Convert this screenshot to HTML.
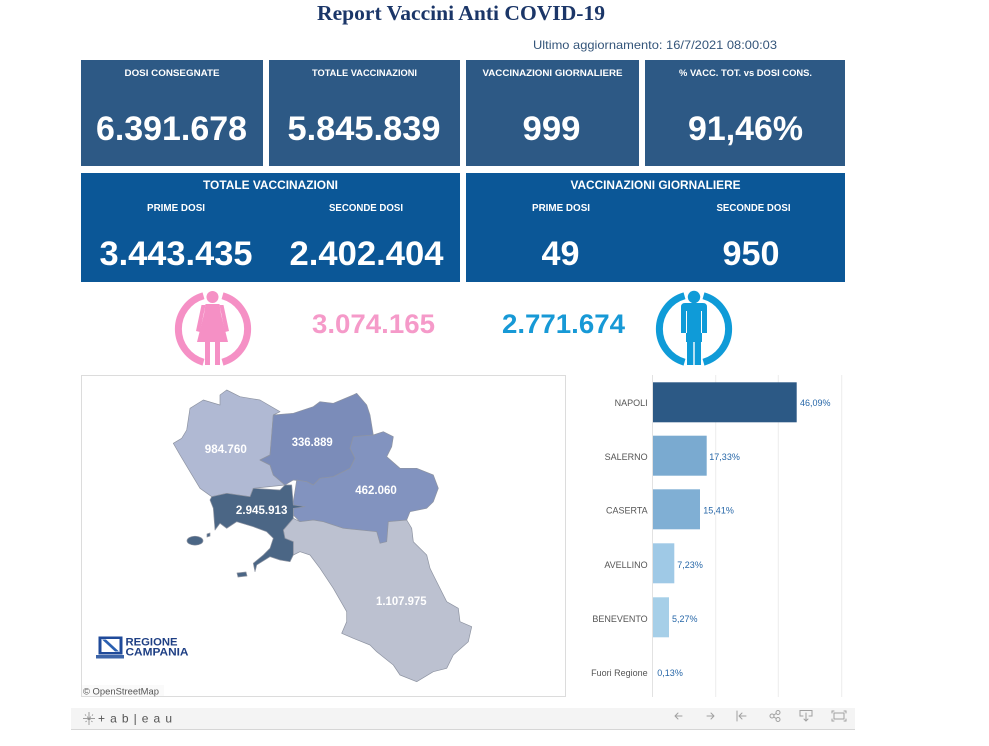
<!DOCTYPE html>
<html><head><meta charset="utf-8"><style>
html,body{margin:0;padding:0;background:#fff;}
svg{display:block;}
text{font-family:"Liberation Sans",Arial,sans-serif;}
</style></head><body>
<svg width="989" height="746" viewBox="0 0 989 746" xmlns="http://www.w3.org/2000/svg">
<rect x="0" y="0" width="989" height="746" fill="#fff"/>
<!-- Title -->
<text x="461" y="20" text-anchor="middle" font-family="Liberation Serif, serif" font-weight="bold" font-size="21" fill="#1b3668" textLength="288" lengthAdjust="spacingAndGlyphs" style="font-family:'Liberation Serif',serif">Report Vaccini Anti COVID-19</text>
<text x="533" y="49" font-size="12" fill="#34557a" textLength="244" lengthAdjust="spacingAndGlyphs">Ultimo aggiornamento: 16/7/2021  08:00:03</text>

<!-- Row 1 cards -->
<g fill="#2d5985">
<rect x="81" y="60" width="182" height="106"/>
<rect x="269" y="60" width="191" height="106"/>
<rect x="466" y="60" width="173" height="106"/>
<rect x="645" y="60" width="200" height="106"/>
</g>
<g fill="#fff" font-weight="bold" text-anchor="middle">
<text x="172" y="76" font-size="9.5" textLength="95" lengthAdjust="spacingAndGlyphs">DOSI  CONSEGNATE</text>
<text x="364.5" y="76" font-size="9.5" textLength="105" lengthAdjust="spacingAndGlyphs">TOTALE VACCINAZIONI</text>
<text x="552.5" y="76" font-size="9.5" textLength="140" lengthAdjust="spacingAndGlyphs">VACCINAZIONI GIORNALIERE</text>
<text x="745.5" y="76" font-size="9.5" textLength="133" lengthAdjust="spacingAndGlyphs">% VACC. TOT. vs DOSI CONS.</text>
<text x="171.5" y="140" font-size="34" textLength="151" lengthAdjust="spacingAndGlyphs">6.391.678</text>
<text x="364" y="140" font-size="34" textLength="153" lengthAdjust="spacingAndGlyphs">5.845.839</text>
<text x="551.5" y="140" font-size="34" textLength="58" lengthAdjust="spacingAndGlyphs">999</text>
<text x="745.5" y="140" font-size="34" textLength="115" lengthAdjust="spacingAndGlyphs">91,46%</text>
</g>

<!-- Row 2 cards -->
<g fill="#0b5797">
<rect x="81" y="173" width="379" height="109"/>
<rect x="466" y="173" width="379" height="109"/>
</g>
<g fill="#fff" font-weight="bold" text-anchor="middle">
<text x="270.5" y="189" font-size="11.5" textLength="135" lengthAdjust="spacingAndGlyphs">TOTALE VACCINAZIONI</text>
<text x="655.5" y="189" font-size="11.5" textLength="170" lengthAdjust="spacingAndGlyphs">VACCINAZIONI GIORNALIERE</text>
<text x="176" y="211" font-size="9.8" textLength="58" lengthAdjust="spacingAndGlyphs">PRIME DOSI</text>
<text x="366" y="211" font-size="9.8" textLength="74" lengthAdjust="spacingAndGlyphs">SECONDE DOSI</text>
<text x="561" y="211" font-size="9.8" textLength="58" lengthAdjust="spacingAndGlyphs">PRIME DOSI</text>
<text x="753.5" y="211" font-size="9.8" textLength="74" lengthAdjust="spacingAndGlyphs">SECONDE DOSI</text>
<text x="176" y="265" font-size="34" textLength="153" lengthAdjust="spacingAndGlyphs">3.443.435</text>
<text x="366.5" y="265" font-size="34" textLength="154" lengthAdjust="spacingAndGlyphs">2.402.404</text>
<text x="560.5" y="265" font-size="34" textLength="38" lengthAdjust="spacingAndGlyphs">49</text>
<text x="751" y="265" font-size="34" textLength="57" lengthAdjust="spacingAndGlyphs">950</text>
</g>

<!-- Female icon -->
<g fill="#f590c5" stroke="none">
<path d="M203.5 295.8 A34.5 34.5 0 0 0 203.5 362.2" fill="none" stroke="#f590c5" stroke-width="7"/>
<path d="M222.5 295.8 A34.5 34.5 0 0 1 222.5 362.2" fill="none" stroke="#f590c5" stroke-width="7"/>
<circle cx="212.5" cy="297" r="6"/>
<polygon points="201.5,305 205.5,305 200,332 196,331"/>
<polygon points="223.5,305 219.5,305 225,332 229,331"/>
<polygon points="205.5,304 219.5,304 221,314 228,342 197,342 204,314"/>
<rect x="205" y="341" width="5" height="24"/>
<rect x="215" y="341" width="5" height="24"/>
</g>
<text x="312" y="333" font-size="27" font-weight="bold" fill="#f59ac9" textLength="123" lengthAdjust="spacingAndGlyphs">3.074.165</text>
<text x="502" y="333" font-size="27" font-weight="bold" fill="#1799d6" textLength="123" lengthAdjust="spacingAndGlyphs">2.771.674</text>

<!-- Male icon -->
<g fill="#0f9bd8">
<path d="M684.5 295.8 A34.5 34.5 0 0 0 684.5 362.2" fill="none" stroke="#0f9bd8" stroke-width="7"/>
<path d="M703.5 295.8 A34.5 34.5 0 0 1 703.5 362.2" fill="none" stroke="#0f9bd8" stroke-width="7"/>
<circle cx="694" cy="297" r="6.2"/>
<path d="M681 307 Q681 303 685 303 L703 303 Q707 303 707 307 L707 333 L702 333 L702 342 L686 342 L686 333 L681 333 Z"/>
<rect x="687" y="341" width="6.3" height="24"/>
<rect x="694.7" y="341" width="6.3" height="24"/>
<line x1="686.5" y1="311" x2="686.5" y2="333" stroke="#fff" stroke-width="1"/>
<line x1="701.5" y1="311" x2="701.5" y2="333" stroke="#fff" stroke-width="1"/>
</g>

<!-- Map panel -->
<rect x="81.5" y="375.5" width="484" height="321" fill="#fff" stroke="#dcdcdc" stroke-width="1"/>
<g stroke="#8e94a2" stroke-width="0.7" stroke-linejoin="round">
<!-- Caserta -->
<polygon fill="#b0b9d3" points="173.3,443.3 181.7,438.3 186.7,430 190,408.3 203.3,400 220,405 220,395 226.7,390 240,396.7 260,400 280,411.7 273.3,415 271.7,435 270,455 260,460 270,465 273.3,475 285,485 253.3,488.3 250,496.7 226.7,493.3 211.7,496.7 200,488.3 190,471.7 180,455"/>
<!-- Benevento -->
<polygon fill="#7b8cb9" points="273.3,415 293.3,413.3 313.3,406.7 320,401.7 333.3,403.3 353.3,395 356.7,393.3 366.7,405 370,415 373.3,435 353.3,436.7 350,448.3 355,458.3 350,468.3 343.3,471.7 333.3,476.7 320,478.3 313.3,485 306.7,481.7 293.3,480 285,485 273.3,475 270,465 260,460 270,455 271.7,435"/>
<!-- Avellino -->
<polygon fill="#8293bf" points="353.3,436.7 373.3,435 383.3,431.7 393.3,436.7 391.7,446.7 386.7,456.7 400,468.3 416.7,468.3 433.3,475 438.3,488.3 433.3,501.7 426.7,508.3 410,511.7 406.7,520 388.3,521.7 386.7,541.7 380,543.3 376.7,531.7 343.3,528.3 323.3,521.7 313.3,520 300,521.7 293.3,515 293.3,501.7 296.7,480 306.7,481.7 313.3,485 320,478.3 333.3,476.7 343.3,471.7 350,468.3 355,458.3 350,448.3"/>
<!-- Salerno -->
<polygon fill="#bcc1d0" points="293.3,518.3 300,521.7 313.3,520 323.3,521.7 343.3,528.3 376.7,531.7 380,543.3 386.7,541.7 388.3,521.7 406.7,520 411.7,528.3 413.3,541.7 426.7,555 430,568.3 433.3,575 446.7,601.7 458.3,608.3 460,621.7 471.7,626.7 468.3,641.7 453.3,655 446.7,668.3 433.3,671.7 416.7,681.7 400,675 393.3,665 376.7,651.7 370,645 353.3,638.3 341.7,633.3 346.7,621.7 346.7,611.7 333.3,588.3 320,568.3 310,555 300,551.7 293.3,555 293.3,541.7 285,538.3 283.3,530"/>
<!-- Napoli -->
<polygon fill="#4b6685" points="211.7,496.7 226.7,493.3 250,496.7 253.3,488.3 280,490 285,485 291.7,485 293.3,505 305,506.7 293.3,508.3 293.3,518.3 283.3,530 285,538.3 293.3,541.7 293.3,555 290,561.7 280,560 270,556.7 256.7,565 255,571.7 253.3,563.3 263.3,555 270,548.3 273.3,538.3 266.7,531.7 253.3,526.7 236.7,521.7 226.7,528.3 220,523.3 215,530 213.3,508.3 210,500"/>
<ellipse cx="195" cy="540.7" rx="8" ry="4.5" fill="#4b6685"/>
<polygon fill="#4b6685" points="237,573 246,572 247,576 238,577"/>
<polygon fill="#4b6685" points="207,534 210,533 210,536 207,537"/>
</g>
<g fill="#fff" font-weight="bold" font-size="11.5" text-anchor="middle">
<text x="225.8" y="453" textLength="42" lengthAdjust="spacingAndGlyphs">984.760</text>
<text x="312.2" y="446" textLength="41" lengthAdjust="spacingAndGlyphs">336.889</text>
<text x="376" y="494" textLength="41.5" lengthAdjust="spacingAndGlyphs">462.060</text>
<text x="261.7" y="514" textLength="51.5" lengthAdjust="spacingAndGlyphs">2.945.913</text>
<text x="401.3" y="605" textLength="50.5" lengthAdjust="spacingAndGlyphs">1.107.975</text>
</g>
<!-- Regione Campania logo -->
<rect x="98.5" y="636.5" width="24" height="18" fill="#1f4a9a"/>
<rect x="101.5" y="639" width="18" height="13" fill="#fff"/>
<polygon points="102,639.5 106,639.5 119,651.5 115,651.5" fill="#2a5fb0"/>
<rect x="96" y="655" width="28" height="3.5" fill="#3c64a8"/>
<text x="125.5" y="645.5" font-size="11" font-weight="bold" fill="#1e3f84" textLength="52" lengthAdjust="spacingAndGlyphs">REGIONE</text>
<text x="125.5" y="655.5" font-size="11" font-weight="bold" fill="#1e3f84" textLength="63" lengthAdjust="spacingAndGlyphs">CAMPANIA</text>
<rect x="82" y="685" width="82" height="11" fill="#fafafa"/>
<text x="83" y="694.5" font-size="9" fill="#555" textLength="76" lengthAdjust="spacingAndGlyphs">© OpenStreetMap</text>

<!-- Bar chart -->
<g stroke="#ececec" stroke-width="1">
<line x1="715.7" y1="375" x2="715.7" y2="697"/>
<line x1="778.3" y1="375" x2="778.3" y2="697"/>
<line x1="841.7" y1="375" x2="841.7" y2="697"/>
</g>
<line x1="652.5" y1="375" x2="652.5" y2="697" stroke="#e2e2e2" stroke-width="1"/>
<rect x="653" y="382.3" width="143.7" height="40" fill="#2c5985"/>
<rect x="653" y="435.7" width="53.7" height="40" fill="#7aaad0"/>
<rect x="653" y="489.3" width="47" height="40" fill="#80afd4"/>
<rect x="653" y="543.3" width="21.3" height="40" fill="#9fc9e6"/>
<rect x="653" y="597.3" width="16" height="40" fill="#a6cfe8"/>
<g font-size="9" fill="#555" text-anchor="end">
<text x="647.7" y="406">NAPOLI</text>
<text x="647.7" y="460">SALERNO</text>
<text x="647.7" y="513.5">CASERTA</text>
<text x="647.7" y="568">AVELLINO</text>
<text x="647.7" y="622">BENEVENTO</text>
<text x="647.7" y="676">Fuori Regione</text>
</g>
<g font-size="9" fill="#2767a8">
<text x="800" y="406">46,09%</text>
<text x="709.3" y="460">17,33%</text>
<text x="703.3" y="513.5">15,41%</text>
<text x="677.3" y="568">7,23%</text>
<text x="672" y="622">5,27%</text>
<text x="657.3" y="676">0,13%</text>
</g>

<!-- Toolbar -->
<rect x="71" y="708" width="784" height="21" fill="#f4f4f4"/>
<line x1="71" y1="729.5" x2="855" y2="729.5" stroke="#d6d6d6" stroke-width="1"/>
<g stroke="#888" stroke-width="0.8" fill="none">
<line x1="89" y1="712" x2="89" y2="725"/>
<line x1="83" y1="718.5" x2="95" y2="718.5"/>
<line x1="85" y1="714.5" x2="93" y2="722.5" stroke-dasharray="1.5 1.5"/>
<line x1="93" y1="714.5" x2="85" y2="722.5" stroke-dasharray="1.5 1.5"/>
</g>
<text x="98" y="722.5" font-size="12" fill="#555" textLength="74" lengthAdjust="spacing">+ a b | e a u</text>
<g stroke="#a0a0a0" stroke-width="1" fill="none" stroke-linecap="round">
<path d="M675 716 H682 M675 716 L678 713 M675 716 L678 719"/>
<path d="M707 716 H714 M714 716 L711 713 M714 716 L711 719"/>
<path d="M737 711 V721 M739 716 H746 M739 716 L742 713 M739 716 L742 719"/>
<circle cx="772" cy="716" r="2"/><circle cx="778" cy="712.5" r="2"/><circle cx="778" cy="719.5" r="2"/>
<path d="M773.8 715 L776.2 713.5 M773.8 717 L776.2 718.5"/>
<path d="M803 716 H800 V710.5 H812 V716 H809 M806 713 V721 M804 719 L806 721 L808 719"/>
<path d="M832 713 V711 H834 M844 711 H846 V713 M846 719 V721 H844 M834 721 H832 V719"/>
<rect x="834" y="713" width="10" height="6"/>
</g>
</svg>
</body></html>
